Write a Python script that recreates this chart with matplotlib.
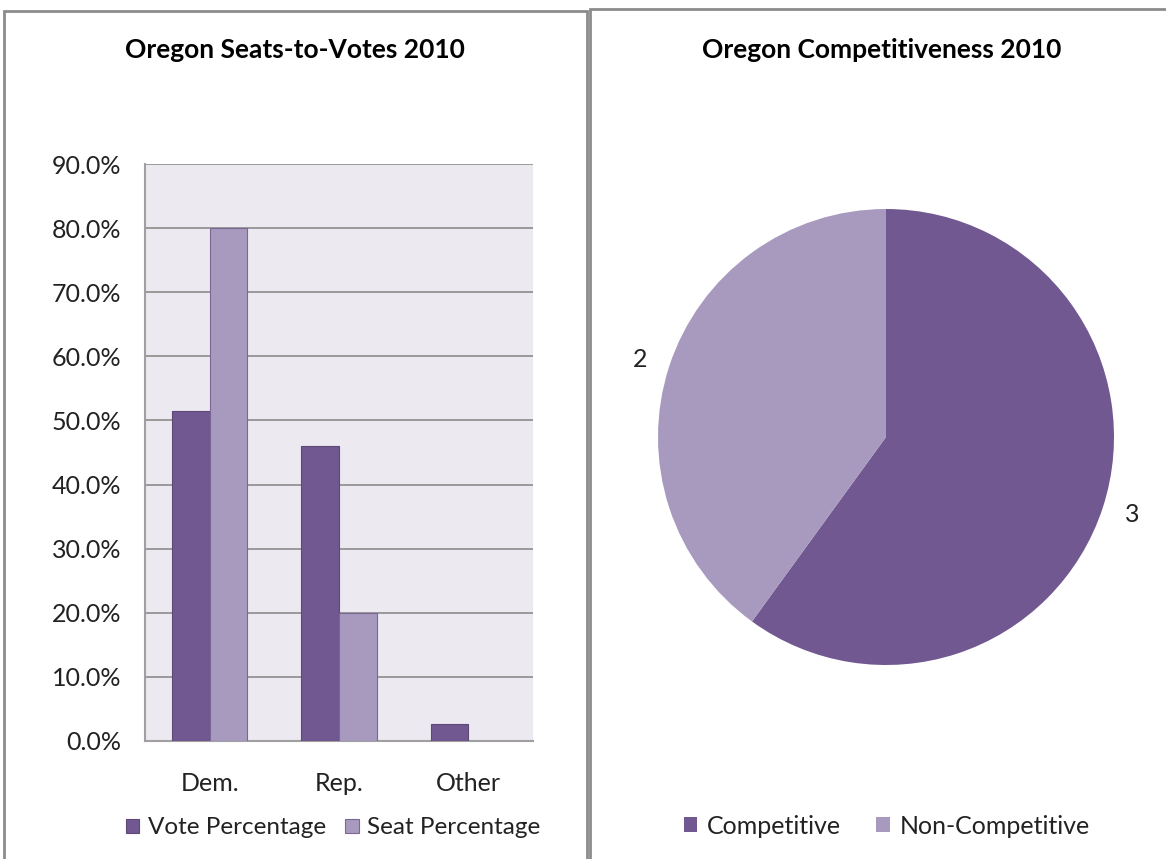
import matplotlib.pyplot as plt
from matplotlib.patches import Rectangle
import numpy as np

# data
parties = ['Dem.', 'Rep.', 'Other']
vote_pct = [51.4, 46.0, 2.7]
seat_pct = [80.0, 20.0, 0.0]
yticks = [0, 10, 20, 30, 40, 50, 60, 70, 80, 90]

pie_labels = ['Competitive', 'Non-Competitive']
pie_values = [3, 2]

dark = '#715891'
light = '#A899BE'
W, H = 1166, 859

plt.rcParams['font.family'] = ['Lato', 'DejaVu Sans']
fig = plt.figure(figsize=(W / 100, H / 100), dpi=100)

# panel frames
fig.patches.append(Rectangle((4 / W, -0.01), 583 / W, 1 - 11 / H + 0.01, transform=fig.transFigure,
                             fill=False, edgecolor='#8c8c8c', linewidth=2))
fig.patches.append(Rectangle((590 / W, -0.01), 600 / W, 1 - 9 / H + 0.01, transform=fig.transFigure,
                             fill=False, edgecolor='#8c8c8c', linewidth=2))

# bar chart
ax = fig.add_axes([145 / W, 1 - 741 / H, 388 / W, 577 / H])
x = np.arange(len(parties))
w = 0.29
ax.set_facecolor('#ECE9F0')
ax.bar(x - w / 2, vote_pct, w, color=dark, edgecolor='#5e4878', linewidth=0.8,
       label='Vote Percentage', zorder=3)
ax.bar(x + w / 2, seat_pct, w, color=light, edgecolor='#7a6796', linewidth=0.8,
       label='Seat Percentage', zorder=3)
ax.set_xlim(-0.5, 2.5)
ax.set_ylim(0, 90)
ax.set_yticks(yticks)
ax.set_yticklabels([f'{v:.1f}%' for v in yticks], fontsize=18, color='#222222')
ax.set_xticks(x)
ax.set_xticklabels(parties, fontsize=18, color='#222222')
ax.yaxis.grid(True, color='#8c8c8c', linewidth=1.2, zorder=0)
ax.tick_params(axis='y', length=0, pad=17)
ax.tick_params(axis='x', length=0, pad=22)
for s in ['top', 'right']:
    ax.spines[s].set_visible(False)
for s in ['left', 'bottom']:
    ax.spines[s].set_color('#a0a0a0')
    ax.spines[s].set_linewidth(1.5)
fig.text(295 / W, 1 - 50 / H, 'Oregon Seats-to-Votes 2010', fontsize=19, fontweight='bold',
         ha='center', va='center')
ax.legend(loc='center', bbox_to_anchor=(333 / W, 1 - 828 / H), bbox_transform=fig.transFigure,
          ncol=2, frameon=False, fontsize=17.5, handlelength=0.55, handleheight=0.55,
          handletextpad=0.35, columnspacing=0.8, labelcolor='#222222')

# pie chart
r = 228
pax = fig.add_axes([(886 - r) / W, 1 - (437 + r) / H, 2 * r / W, 2 * r / H])
wedges, texts = pax.pie(pie_values, colors=[dark, light], startangle=90, counterclock=False,
                        labels=[str(v) for v in pie_values], labeldistance=1.10,
                        textprops={'fontsize': 18, 'color': '#222222'})
pax.set_xlim(-1, 1)
pax.set_ylim(-1, 1)
pax.set_aspect('equal')
for t in texts:
    t.set_clip_on(False)
fig.text(882 / W, 1 - 50 / H, 'Oregon Competitiveness 2010', fontsize=19, fontweight='bold',
         ha='center', va='center')
pax.legend(wedges, pie_labels, loc='center', bbox_to_anchor=(887 / W, 1 - 826 / H),
           bbox_transform=fig.transFigure, ncol=2, frameon=False, fontsize=18,
           handlelength=0.55, handleheight=0.55, handletextpad=0.4, columnspacing=1.4,
           labelcolor='#222222')

plt.savefig('out.png', dpi=100)
plt.close()
